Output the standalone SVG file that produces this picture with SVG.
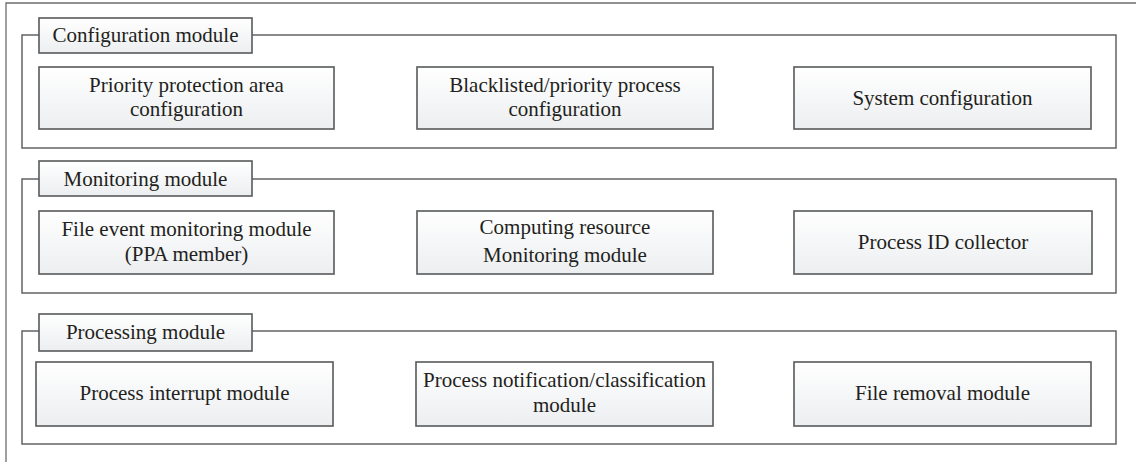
<svg xmlns="http://www.w3.org/2000/svg" width="1136" height="462" viewBox="0 0 1136 462">
  <defs>
    <linearGradient id="boxFill" x1="0" y1="0" x2="0" y2="1">
      <stop offset="0" stop-color="#ffffff"/>
      <stop offset="1" stop-color="#eceef0"/>
    </linearGradient>
    <style>
      .frame { fill: none; stroke: #6d6e70; stroke-width: 1.3; }
      .section { fill: none; stroke: #58595b; stroke-width: 1.4; }
      .box { fill: url(#boxFill); stroke: #58595b; stroke-width: 1.6; }
      .label { font-family: "Liberation Serif", "DejaVu Serif", serif; font-size: 21px; fill: #231f20; text-anchor: middle; }
    </style>
  </defs>

  <!-- outer frame: left and top edges only -->
  <path class="frame" d="M6,462 V3 H1136"/>

  <!-- configuration section -->
  <g id="configuration-module">
    <rect class="section" x="22" y="35" width="1094" height="113"/>
    <rect class="box" x="39" y="18" width="213" height="35"/>
    <text class="label" x="145.5" y="42">Configuration module</text>
  </g>
  <g id="priority-protection-area">
    <rect class="box" x="39" y="67" width="295" height="62"/>
    <text class="label" x="186.5" y="92">Priority protection area</text>
    <text class="label" x="186.5" y="116">configuration</text>
  </g>
  <g id="blacklist-config">
    <rect class="box" x="417" y="67" width="296" height="62"/>
    <text class="label" x="565" y="92">Blacklisted/priority process</text>
    <text class="label" x="565" y="116">configuration</text>
  </g>
  <g id="system-config">
    <rect class="box" x="794" y="67" width="297" height="62"/>
    <text class="label" x="942.5" y="105">System configuration</text>
  </g>

  <!-- monitoring section -->
  <g id="monitoring-module">
    <rect class="section" x="22" y="179" width="1094" height="114"/>
    <rect class="box" x="39" y="161" width="213" height="35"/>
    <text class="label" x="145.5" y="186">Monitoring module</text>
  </g>
  <g id="file-event-monitor">
    <rect class="box" x="39" y="211" width="295" height="63"/>
    <text class="label" x="186.5" y="236">File event monitoring module</text>
    <text class="label" x="186.5" y="261">(PPA member)</text>
  </g>
  <g id="resource-monitor">
    <rect class="box" x="417" y="211" width="296" height="63"/>
    <text class="label" x="565" y="234">Computing resource</text>
    <text class="label" x="565" y="262">Monitoring module</text>
  </g>
  <g id="pid-collector">
    <rect class="box" x="794" y="211" width="298" height="63"/>
    <text class="label" x="943" y="249">Process ID collector</text>
  </g>

  <!-- processing section -->
  <g id="processing-module">
    <rect class="section" x="22" y="331" width="1094" height="113"/>
    <rect class="box" x="39" y="314" width="213" height="37"/>
    <text class="label" x="145.5" y="339">Processing module</text>
  </g>
  <g id="process-interrupt">
    <rect class="box" x="36" y="362" width="297" height="64"/>
    <text class="label" x="184.5" y="400">Process interrupt module</text>
  </g>
  <g id="notification-classification">
    <rect class="box" x="416" y="362" width="297" height="64"/>
    <text class="label" x="564.5" y="387">Process notification/classification</text>
    <text class="label" x="564.5" y="412">module</text>
  </g>
  <g id="file-removal">
    <rect class="box" x="794" y="362" width="297" height="64"/>
    <text class="label" x="942.5" y="400">File removal module</text>
  </g>

  <!-- connectors: none in this layout -->
  <g id="connectors"/>
</svg>
